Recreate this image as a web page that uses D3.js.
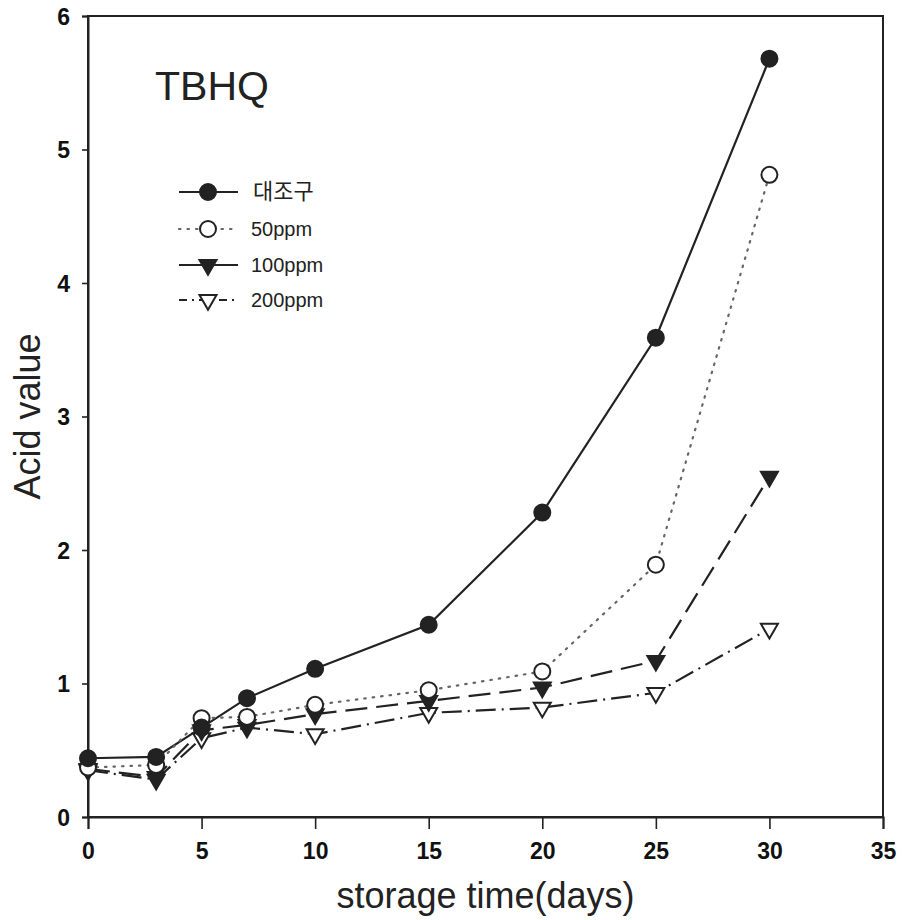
<!DOCTYPE html>
<html><head><meta charset="utf-8">
<script src="https://cdn.jsdelivr.net/npm/d3@7/dist/d3.min.js"></script>
<style>body{margin:0;background:#fff}svg{display:block}</style>
</head><body>
<svg id="c" width="903" height="920"></svg>
<script>
const days = [0, 3, 5, 7, 10, 15, 20, 25, 30];
const seriesNames = ["대조구", "50ppm", "100ppm", "200ppm"];
const control = [0.44, 0.45, 0.67, 0.89, 1.11, 1.44, 2.28, 3.59, 5.68];
const ppm50 = [0.37, 0.39, 0.74, 0.75, 0.84, 0.95, 1.09, 1.89, 4.81];
const ppm100 = [0.36, 0.30, 0.65, 0.69, 0.77, 0.87, 0.97, 1.17, 2.55];
const ppm200 = [0.35, 0.28, 0.59, 0.67, 0.62, 0.78, 0.82, 0.93, 1.41];
const xTicks = [0, 5, 10, 15, 20, 25, 30, 35];
const yTicks = [0, 1, 2, 3, 4, 5, 6];

const svg = d3.select("#c");
const L = 88, R = 883, T = 16, B = 817;
const x = d3.scaleLinear().domain([0, 35]).range([L, R]);
const y = d3.scaleLinear().domain([0, 6]).range([B, T]);
const ink = "#222";
const font = "'Liberation Sans', Arial, sans-serif";

// frame
svg.append("rect").attr("x", L).attr("y", T).attr("width", R - L).attr("height", B - T)
  .attr("fill", "none").attr("stroke", ink).attr("stroke-width", 2);

const xa = svg.append("g").attr("transform", `translate(0,${B})`)
  .call(d3.axisBottom(x).tickValues(xTicks).tickSize(12).tickPadding(14).tickFormat(d3.format("d")));
const ya = svg.append("g").attr("transform", `translate(${L},0)`)
  .call(d3.axisLeft(y).tickValues(yTicks).tickSize(6).tickPadding(12).tickFormat(d3.format("d")));
[xa, ya].forEach(a => {
  a.select(".domain").attr("stroke", ink).attr("stroke-width", 2);
  a.selectAll(".tick line").attr("stroke", ink).attr("stroke-width", 1.6);
  a.selectAll(".tick text").attr("fill", "#111").style("font-family", font)
    .style("font-size", "23px").style("font-weight", "bold");
});
ya.selectAll(".tick text").attr("dy", "0.36em");

svg.append("text").attr("x", (L + R) / 2).attr("y", 908).attr("text-anchor", "middle")
  .style("font-family", font).style("font-size", "36px").attr("fill", "#222")
  .text("storage time(days)");
svg.append("text").attr("transform", `translate(40,${(T + B) / 2}) rotate(-90)`).attr("text-anchor", "middle")
  .style("font-family", font).style("font-size", "36px").attr("fill", "#222")
  .text("Acid value");
svg.append("text").attr("x", 155).attr("y", 100)
  .style("font-family", font).style("font-size", "41px").attr("fill", "#222")
  .text("TBHQ");

const styles = [
  {vals: control, dash: null, color: ink, sym: "circle", fill: ink, cap: "butt"},
  {vals: ppm50, dash: "1.5,7", color: "#666", sym: "circle", fill: "#fff", cap: "round"},
  {vals: ppm100, dash: "22,9", color: ink, sym: "tri", fill: ink, cap: "butt"},
  {vals: ppm200, dash: "20,6,2,6", color: ink, sym: "tri", fill: "#fff", cap: "butt"}
];
const line = d3.line().x(d => x(d[0])).y(d => y(d[1]));
const circ = d3.symbol().type(d3.symbolCircle).size(Math.PI * 8 * 8)();
const tri = d3.symbol().type(d3.symbolTriangle).size(125)();

styles.forEach(s => {
  svg.append("path").datum(days.map((d, i) => [d, s.vals[i]])).attr("d", line)
    .attr("fill", "none").attr("stroke", s.color).attr("stroke-width", 2.2)
    .attr("stroke-linecap", s.cap).attr("stroke-dasharray", s.dash);
});
function marker(g, s, cx, cy) {
  if (s.sym === "circle") {
    g.append("path").attr("d", circ).attr("transform", `translate(${cx},${cy})`)
      .attr("fill", s.fill).attr("stroke", ink).attr("stroke-width", 2);
  } else {
    g.append("path").attr("d", tri).attr("transform", `translate(${cx},${cy}) rotate(180)`)
      .attr("fill", s.fill).attr("stroke", ink).attr("stroke-width", 2);
  }
}
const mg = svg.append("g");
[3, 2, 1, 0].forEach(k => {
  const s = styles[k];
  days.forEach((d, i) => marker(mg, s, x(d), y(s.vals[i])));
});

// legend
const lg = svg.append("g");
const rowY = [192, 229, 265, 300];
styles.forEach((s, k) => {
  const yy = rowY[k];
  lg.append("line").attr("x1", 179).attr("x2", 238).attr("y1", yy).attr("y2", yy)
    .attr("stroke", s.color).attr("stroke-width", 2.2).attr("stroke-linecap", s.cap)
    .attr("stroke-dasharray", k === 2 ? null : (k === 3 ? "8,5,2,5" : s.dash));
  marker(lg, s, 208, yy);
  lg.append("text").attr("x", k === 0 ? 253 : 251).attr("y", yy + 7)
    .style("font-family", k === 0 ? "'Noto Sans CJK KR', sans-serif" : font)
    .style("font-size", k === 0 ? "22px" : "20px").attr("fill", "#222")
    .text(seriesNames[k]);
});
</script>
</body></html>
